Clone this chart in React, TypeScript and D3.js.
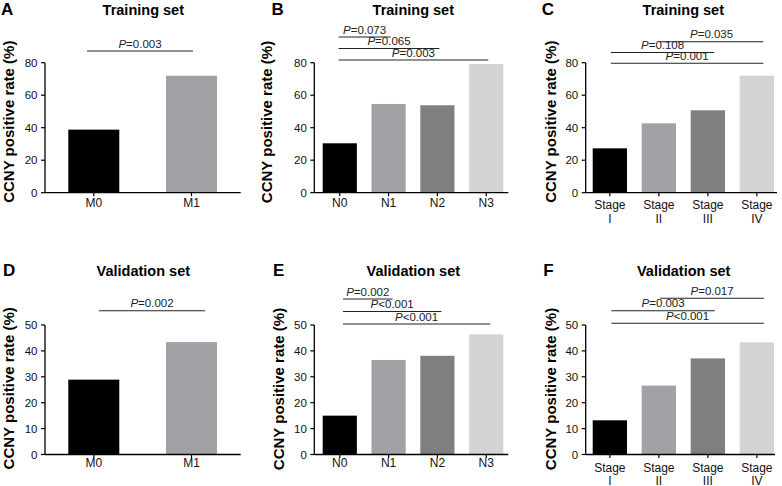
import React from "react";
import * as d3 from "d3";

// ---------- data ----------
const mCategories = [["M0"], ["M1"]];
const nCategories = [["N0"], ["N1"], ["N2"], ["N3"]];
const stageCategories = [["Stage", "I"], ["Stage", "II"], ["Stage", "III"], ["Stage", "IV"]];

const trainingM = [38.8, 72.0];
const trainingN = [30.4, 54.6, 53.8, 79.2];
const trainingStage = [27.3, 42.7, 50.7, 72.0];
const validationM = [28.9, 43.4];
const validationN = [15.0, 36.5, 38.1, 46.4];
const validationStage = [13.2, 26.6, 37.1, 43.3];

const trainingTicks = [0, 20, 40, 60, 80];
const validationTicks = [0, 10, 20, 30, 40, 50];

type Comp = { from: number; to: number; op: string; p: string; level: number };
const trainingMComps: Comp[] = [{ from: 0, to: 1, op: "=", p: "0.003", level: 0 }];
const trainingNComps: Comp[] = [
  { from: 0, to: 1, op: "=", p: "0.073", level: 2 },
  { from: 0, to: 2, op: "=", p: "0.065", level: 1 },
  { from: 0, to: 3, op: "=", p: "0.003", level: 0 },
];
const trainingStageComps: Comp[] = [
  { from: 1, to: 3, op: "=", p: "0.035", level: 2 },
  { from: 0, to: 2, op: "=", p: "0.108", level: 1 },
  { from: 0, to: 3, op: "=", p: "0.001", level: 0 },
];
const validationMComps: Comp[] = [{ from: 0, to: 1, op: "=", p: "0.002", level: 0 }];
const validationNComps: Comp[] = [
  { from: 0, to: 1, op: "=", p: "0.002", level: 2 },
  { from: 0, to: 2, op: "<", p: "0.001", level: 1 },
  { from: 0, to: 3, op: "<", p: "0.001", level: 0 },
];
const validationStageComps: Comp[] = [
  { from: 1, to: 3, op: "=", p: "0.017", level: 2 },
  { from: 0, to: 2, op: "=", p: "0.003", level: 1 },
  { from: 0, to: 3, op: "<", p: "0.001", level: 0 },
];

const twoColors = ["#000000", "#a2a2a6"];
const fourColors = ["#000000", "#a2a2a6", "#7f7f7f", "#d4d4d4"];

const FONT = "'Liberation Sans', Arial, Helvetica, sans-serif";

type Cfg = {
  letter: string; letterX: number; letterY: number;
  title: string; titleX: number; titleY: number;
  ylabX: number; ylabY: number;
  axisX: number; axisEnd: number; yTop: number; yBottom: number;
  bandStart: number; bandEnd: number; padInner: number;
  xlabOff: number;
  lineBase: number; lineSp: number; startShift: number; endShift: number;
};

function Panel({ cfg, cats, values, ticks, comps, colors }: {
  cfg: Cfg; cats: string[][]; values: number[]; ticks: number[]; comps: Comp[]; colors: string[];
}) {
  const y = d3.scaleLinear().domain([0, ticks[ticks.length - 1]]).range([cfg.yBottom, cfg.yTop]);
  const x = d3.scaleBand<number>()
    .domain(d3.range(cats.length))
    .range([cfg.bandStart, cfg.bandEnd])
    .paddingInner(cfg.padInner)
    .paddingOuter(0);
  const bw = x.bandwidth();
  const cx = (i: number) => (x(i) as number) + bw / 2;
  return (
    <g fontFamily={FONT}>
      <text x={cfg.letterX} y={cfg.letterY} fontSize={17} fontWeight="bold">{cfg.letter}</text>
      <text x={cfg.titleX} y={cfg.titleY} fontSize={14.5} fontWeight="bold" textAnchor="middle">{cfg.title}</text>
      <text transform={`translate(${cfg.ylabX},${cfg.ylabY}) rotate(-90)`} fontSize={15} fontWeight="bold" textAnchor="middle">
        CCNY positive rate (%)
      </text>
      {values.map((v, i) => (
        <rect key={i} x={x(i)} y={y(v)} width={bw} height={y(0) - y(v)} fill={colors[i]} />
      ))}
      {/* y axis */}
      <line x1={cfg.axisX} x2={cfg.axisX} y1={y(ticks[ticks.length - 1])} y2={y(0)} stroke="#000" strokeWidth={1.3} />
      {ticks.map((t) => (
        <g key={t}>
          <line x1={cfg.axisX - 4} x2={cfg.axisX} y1={y(t)} y2={y(t)} stroke="#000" strokeWidth={1.2} />
          <text x={cfg.axisX - 7.5} y={y(t)} dy="0.36em" fontSize={11.5} textAnchor="end" fill="#111">{t}</text>
        </g>
      ))}
      {/* x axis */}
      <line x1={cfg.axisX} x2={cfg.axisEnd} y1={y(0)} y2={y(0)} stroke="#000" strokeWidth={1.3} />
      {cats.map((c, i) => (
        <g key={i}>
          <line x1={cx(i)} x2={cx(i)} y1={y(0)} y2={y(0) + 3.5} stroke="#000" strokeWidth={1.2} />
          <text x={cx(i)} y={y(0) + cfg.xlabOff} fontSize={12} textAnchor="middle" fill="#111">
            {c.map((s, k) => (
              <tspan key={k} x={cx(i)} dy={k === 0 ? 0 : 13.4}>{s}</tspan>
            ))}
          </text>
        </g>
      ))}
      {/* significance lines */}
      {comps.map((cp, k) => {
        const ly = cfg.lineBase - cp.level * cfg.lineSp;
        const x1 = cx(cp.from) + cfg.startShift;
        const x2 = cx(cp.to) + cfg.endShift;
        return (
          <g key={k}>
            <line x1={x1} x2={x2} y1={ly} y2={ly} stroke="#222" strokeWidth={1.1} />
            <text x={(x1 + x2) / 2} y={ly - 3.5} fontSize={11.5} textAnchor="middle" fill="#222">
              <tspan fontStyle="italic">P</tspan>{cp.op + cp.p}
            </text>
          </g>
        );
      })}
    </g>
  );
}

const cfgA: Cfg = {
  letter: "A", letterX: 1, letterY: 15, title: "Training set", titleX: 143.3, titleY: 15,
  ylabX: 13.5, ylabY: 121.7, axisX: 45, axisEnd: 240.7, yTop: 62.7, yBottom: 192.7,
  bandStart: 68.3, bandEnd: 217, padInner: 0.478, xlabOff: 14.6,
  lineBase: 51, lineSp: 0, startShift: -6.8, endShift: 1.5,
};
const cfgB: Cfg = {
  letter: "B", letterX: 271.5, letterY: 15, title: "Training set", titleX: 413.3, titleY: 15,
  ylabX: 272.4, ylabY: 122, axisX: 314.3, axisEnd: 508.3, yTop: 62.7, yBottom: 192.7,
  bandStart: 322.7, bandEnd: 503.3, padInner: 0.3, xlabOff: 14.6,
  lineBase: 60, lineSp: 11.5, startShift: -1.2, endShift: 2,
};
const cfgC: Cfg = {
  letter: "C", letterX: 541.7, letterY: 15, title: "Training set", titleX: 683.3, titleY: 15,
  ylabX: 555.7, ylabY: 121.7, axisX: 585.7, axisEnd: 777, yTop: 62.7, yBottom: 192.7,
  bandStart: 592.7, bandEnd: 774, padInner: 0.3, xlabOff: 16.6,
  lineBase: 63.3, lineSp: 10.8, startShift: 1, endShift: 6.5,
};
const cfgD: Cfg = {
  letter: "D", letterX: 3, letterY: 276, title: "Validation set", titleX: 143.3, titleY: 276,
  ylabX: 14, ylabY: 388.3, axisX: 45, axisEnd: 240.7, yTop: 325, yBottom: 454.5,
  bandStart: 68.3, bandEnd: 217, padInner: 0.478, xlabOff: 12.2,
  lineBase: 310.7, lineSp: 0, startShift: 5.2, endShift: 13.5,
};
const cfgE: Cfg = {
  letter: "E", letterX: 273, letterY: 276, title: "Validation set", titleX: 413.3, titleY: 276,
  ylabX: 284, ylabY: 389, axisX: 314.3, axisEnd: 508.3, yTop: 325, yBottom: 454.5,
  bandStart: 322.7, bandEnd: 503.3, padInner: 0.3, xlabOff: 12.2,
  lineBase: 324, lineSp: 12.5, startShift: 3.2, endShift: 4,
};
const cfgF: Cfg = {
  letter: "F", letterX: 543.3, letterY: 276, title: "Validation set", titleX: 683.7, titleY: 276,
  ylabX: 555.7, ylabY: 389, axisX: 585.7, axisEnd: 775, yTop: 325, yBottom: 454.5,
  bandStart: 592.7, bandEnd: 774, padInner: 0.3, xlabOff: 17,
  lineBase: 323.3, lineSp: 12.5, startShift: 1.5, endShift: 7,
};

export default function App() {
  return (
    <svg width={782} height={486} style={{ position: "absolute", left: 0, top: 0, background: "#fff" }}>
      <rect width={782} height={486} fill="#fff" />
      <Panel cfg={cfgA} cats={mCategories} values={trainingM} ticks={trainingTicks} comps={trainingMComps} colors={twoColors} />
      <Panel cfg={cfgB} cats={nCategories} values={trainingN} ticks={trainingTicks} comps={trainingNComps} colors={fourColors} />
      <Panel cfg={cfgC} cats={stageCategories} values={trainingStage} ticks={trainingTicks} comps={trainingStageComps} colors={fourColors} />
      <Panel cfg={cfgD} cats={mCategories} values={validationM} ticks={validationTicks} comps={validationMComps} colors={twoColors} />
      <Panel cfg={cfgE} cats={nCategories} values={validationN} ticks={validationTicks} comps={validationNComps} colors={fourColors} />
      <Panel cfg={cfgF} cats={stageCategories} values={validationStage} ticks={validationTicks} comps={validationStageComps} colors={fourColors} />
    </svg>
  );
}
